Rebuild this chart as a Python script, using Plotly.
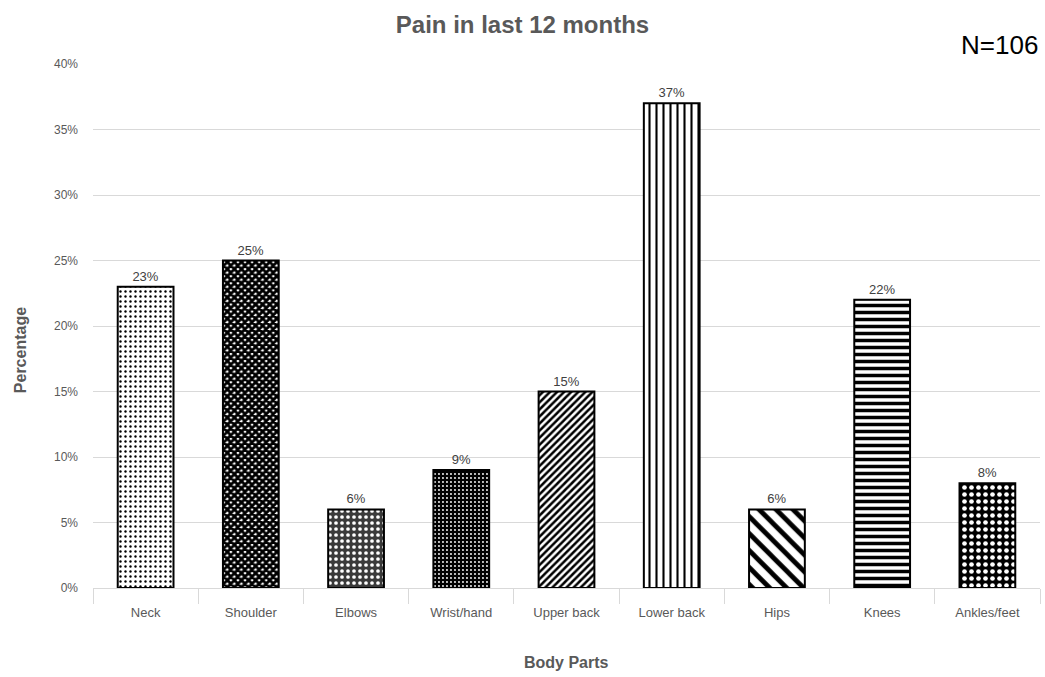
import plotly.graph_objects as go

# Share of respondents reporting pain in each body region
body_parts = ["Neck", "Shoulder", "Elbows", "Wrist/hand", "Upper back",
              "Lower back", "Hips", "Knees", "Ankles/feet"]
pain_pct = [23, 25, 6, 9, 15, 37, 6, 22, 8]
y_ticks = [0, 5, 10, 15, 20, 25, 30, 35, 40]

# Fill pattern per bar: (shape, foreground, background, size, solidity)
patterns = [
    (".", "black", "white", 5, 0.18),
    ("x", "black", "white", 5, 0.8),
    (".", "white", "#3a3a3a", 6, 0.3),
    (".", "white", "black", 4, 0.18),
    ("/", "black", "white", 5, 0.5),
    ("|", "black", "white", 7, 0.3),
    ("\\", "black", "white", 12, 0.4),
    ("-", "black", "white", 7, 0.5),
    (".", "white", "black", 7, 0.35),
]

FONT = "Liberation Sans Narrow, Arial Narrow, Liberation Sans, sans-serif"
GREY = "#595959"

fig = go.Figure()
fig.add_trace(go.Bar(
    x=body_parts,
    y=pain_pct,
    text=[f"{v}%" for v in pain_pct],
    textposition="outside",
    textfont=dict(family=FONT, size=13, color="#404040"),
    cliponaxis=False,
    marker=dict(
        color="white",
        line=dict(color="black", width=2),
        pattern=dict(
            shape=[p[0] for p in patterns],
            fgcolor=[p[1] for p in patterns],
            bgcolor=[p[2] for p in patterns],
            size=[p[3] for p in patterns],
            solidity=[p[4] for p in patterns],
            fgopacity=1,
            fillmode="replace",
        ),
    ),
    showlegend=False,
))

fig.update_layout(
    width=1045, height=677,
    margin=dict(l=93, r=5, t=64, b=89),
    paper_bgcolor="white", plot_bgcolor="white",
    bargap=0.47,
    title=dict(text="<b>Pain in last 12 months</b>", x=0.5, xanchor="center",
               y=0.963, yanchor="middle",
               font=dict(family=FONT, size=24, color=GREY)),
    font=dict(family=FONT, color=GREY),
    annotations=[
        dict(text="N=106", x=0.9995, xref="paper", xanchor="right",
             y=1.037, yref="paper", yanchor="middle", showarrow=False,
             font=dict(family=FONT, size=26, color="black")),
        dict(text="<b>Body Parts</b>", x=0.5, xref="paper", xanchor="center",
             y=-0.143, yref="paper", yanchor="middle", showarrow=False,
             font=dict(family=FONT, size=16, color=GREY)),
        dict(text="<b>Percentage</b>", x=-0.077, xref="paper", xanchor="center",
             y=0.454, yref="paper", yanchor="middle", showarrow=False,
             textangle=-90,
             font=dict(family=FONT, size=16, color=GREY)),
    ],
)

fig.update_xaxes(
    showline=True, linecolor="#d9d9d9", linewidth=1,
    ticks="outside", tickson="boundaries", ticklen=15, tickcolor="#d9d9d9",
    tickfont=dict(family=FONT, size=13, color=GREY),
    ticklabelstandoff=12,
    showgrid=False,
)
fig.update_yaxes(
    range=[0, 40],
    tickvals=y_ticks,
    ticktext=[f"{t}%" for t in y_ticks],
    tickfont=dict(family=FONT, size=12, color=GREY),
    showgrid=True, gridcolor="#d9d9d9", gridwidth=1,
    zeroline=False,
    ticks="", ticklabelstandoff=14,
)

fig.write_html("out.html")
